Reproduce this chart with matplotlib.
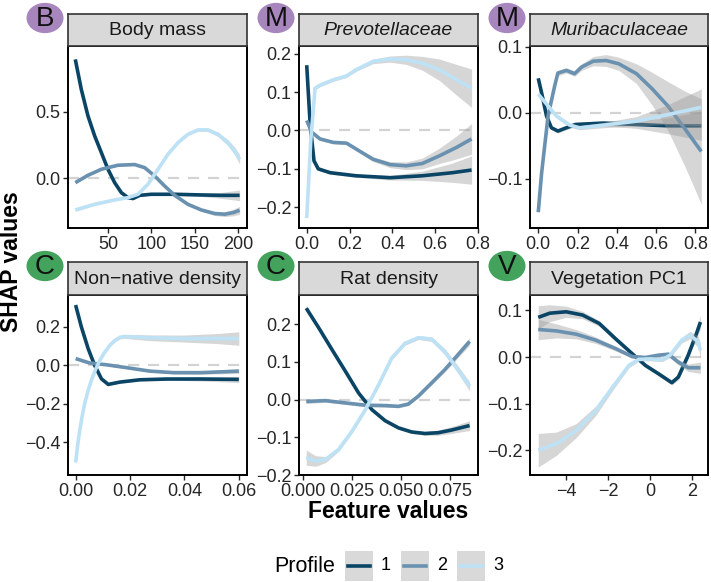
import matplotlib
matplotlib.use("Agg")
import matplotlib.pyplot as plt
from matplotlib.patches import Circle, Rectangle
from matplotlib.lines import Line2D

plt.rcParams['font.family'] = ['Liberation Sans', 'DejaVu Sans']

# -----------------------------
# Data
# -----------------------------
profiles = ["1", "2", "3"]
profile_colors = ["#0b4566", "#6a92b0", "#bde2f5"]

# Body mass
bm_x1 = [12.4, 19.3, 27, 34.7, 42.4, 50, 57.7, 65.4, 73, 78.8, 86.5, 100, 126.8, 157.4, 180, 201.5]
bm_y1 = [0.89, 0.666, 0.467, 0.318, 0.193, 0.069, -0.031, -0.106, -0.143, -0.15, -0.126,
         -0.118, -0.118, -0.123, -0.126, -0.126]
bm_s1 = [0.012, 0.01, 0.008, 0.007, 0.006, 0.006, 0.006, 0.006, 0.006, 0.006, 0.006,
         0.006, 0.007, 0.012, 0.022, 0.04]
bm_x2 = [12.4, 27, 42.4, 61.5, 80.7, 92.2, 103.7, 115.2, 126.8, 142, 157.4, 172.8, 184.3, 194, 201.5]
bm_y2 = [-0.031, 0.024, 0.069, 0.099, 0.104, 0.081, 0.019, -0.056, -0.126, -0.193, -0.235,
         -0.262, -0.267, -0.255, -0.238]
bm_s2 = [0.01, 0.008, 0.006, 0.006, 0.006, 0.006, 0.006, 0.006, 0.007, 0.008, 0.01,
         0.014, 0.018, 0.024, 0.03]
bm_x3 = [12.4, 34.7, 57.7, 73, 84.6, 96, 107.6, 119, 130.6, 142, 153.6, 165, 176.6, 188, 195.8, 201.5]
bm_y3 = [-0.235, -0.193, -0.16, -0.143, -0.118, -0.043, 0.069, 0.181, 0.268, 0.33, 0.363,
         0.363, 0.33, 0.268, 0.206, 0.143]
bm_s3 = [0.01, 0.007, 0.006, 0.006, 0.006, 0.006, 0.006, 0.006, 0.007, 0.008, 0.01,
         0.012, 0.016, 0.022, 0.028, 0.035]

# Prevotellaceae
pv_x1 = [0.0, 0.016, 0.034, 0.054, 0.11, 0.23, 0.39, 0.54, 0.68, 0.77]
pv_y1 = [0.17, 0.017, -0.079, -0.10, -0.11, -0.118, -0.123, -0.118, -0.11, -0.103]
pv_s1 = [0.004, 0.004, 0.004, 0.004, 0.004, 0.004, 0.006, 0.012, 0.025, 0.037]
pv_x2 = [0.0, 0.023, 0.062, 0.124, 0.186, 0.23, 0.31, 0.39, 0.465, 0.54, 0.62, 0.70, 0.77]
pv_y2 = [0.026, -0.004, -0.022, -0.031, -0.033, -0.048, -0.075, -0.089, -0.092, -0.086, -0.066, -0.044, -0.022]
pv_s2 = [0.004, 0.004, 0.004, 0.004, 0.004, 0.004, 0.006, 0.008, 0.01, 0.014, 0.02, 0.03, 0.04]
pv_x3 = [0.0, 0.019, 0.039, 0.062, 0.124, 0.186, 0.23, 0.31, 0.39, 0.465, 0.54, 0.62, 0.70, 0.77]
pv_y3 = [-0.228, -0.026, 0.11, 0.118, 0.132, 0.142, 0.158, 0.18, 0.186, 0.184, 0.175, 0.158, 0.132, 0.11]
pv_s3 = [0.004, 0.004, 0.004, 0.004, 0.004, 0.004, 0.004, 0.006, 0.008, 0.012, 0.018, 0.028, 0.04, 0.05]

# Muribaculaceae
mb_x1 = [0.0, 0.02, 0.042, 0.067, 0.1, 0.143, 0.19, 0.33, 0.5, 0.66, 0.83]
mb_y1 = [0.052, 0.026, -0.005, -0.023, -0.028, -0.023, -0.018, -0.016, -0.018, -0.02, -0.02]
mb_s1 = [0.003, 0.003, 0.003, 0.003, 0.003, 0.003, 0.003, 0.004, 0.006, 0.012, 0.022]
mb_x2 = [0.0, 0.017, 0.05, 0.084, 0.1, 0.143, 0.185, 0.22, 0.28, 0.345, 0.41, 0.5, 0.58, 0.66, 0.75, 0.83]
mb_y2 = [-0.151, -0.092, -0.005, 0.041, 0.06, 0.064, 0.059, 0.069, 0.078, 0.079, 0.074, 0.059, 0.036, 0.01, -0.026, -0.059]
mb_s2 = [0.004, 0.004, 0.004, 0.004, 0.004, 0.004, 0.004, 0.005, 0.007, 0.009, 0.01, 0.015, 0.025, 0.037, 0.058, 0.08]
mb_x3 = [0.0, 0.042, 0.092, 0.16, 0.21, 0.33, 0.5, 0.66, 0.83]
mb_y3 = [0.028, 0.013, -0.005, -0.019, -0.023, -0.019, -0.013, -0.003, 0.008]
mb_s3 = [0.003, 0.003, 0.003, 0.003, 0.003, 0.004, 0.007, 0.015, 0.028]

# Non-native density
nn_x1 = [0.0, 0.0021, 0.0046, 0.007, 0.0095, 0.012, 0.0162, 0.0236, 0.0335, 0.046, 0.06]
nn_y1 = [0.313, 0.2, 0.087, 0.0, -0.07, -0.099, -0.087, -0.075, -0.071, -0.071, -0.073]
nn_s1 = [0.008, 0.006, 0.005, 0.005, 0.005, 0.005, 0.005, 0.005, 0.006, 0.01, 0.016]
nn_x2 = [0.0, 0.0052, 0.0113, 0.0187, 0.0273, 0.036, 0.046, 0.06]
nn_y2 = [0.035, 0.012, 0.003, -0.012, -0.03, -0.038, -0.038, -0.03]
nn_s2 = [0.006, 0.005, 0.005, 0.005, 0.005, 0.006, 0.008, 0.012]
nn_x3 = [0.0, 0.0008, 0.0015, 0.0024, 0.0033, 0.0045, 0.0058, 0.0073, 0.0089, 0.0107,
         0.0126, 0.0145, 0.0162, 0.018, 0.021, 0.0273, 0.0396, 0.052, 0.06]
nn_y3 = [-0.504, -0.41, -0.339, -0.265, -0.2, -0.135, -0.078, -0.022, 0.026, 0.068,
         0.104, 0.13, 0.145, 0.15, 0.148, 0.143, 0.139, 0.139, 0.139]
nn_s3 = [0.012, 0.01, 0.008, 0.007, 0.006, 0.006, 0.006, 0.006, 0.006, 0.006,
         0.006, 0.007, 0.008, 0.01, 0.012, 0.015, 0.018, 0.026, 0.035]

# Rat density
rd_x1 = [0.0017, 0.0082, 0.0149, 0.0217, 0.0285, 0.0353, 0.042, 0.0488, 0.0556, 0.0624,
         0.0691, 0.0759, 0.0852]
rd_y1 = [0.242, 0.189, 0.132, 0.075, 0.017, -0.027, -0.056, -0.075, -0.086, -0.09,
         -0.088, -0.081, -0.069]
rd_s1 = [0.008, 0.005, 0.004, 0.004, 0.004, 0.004, 0.004, 0.004, 0.004, 0.005, 0.007, 0.009, 0.013]
rd_x2 = [0.0017, 0.0116, 0.0217, 0.0319, 0.042, 0.0488, 0.0539, 0.059, 0.0658, 0.0725, 0.0793, 0.0852]
rd_y2 = [-0.005, -0.003, -0.009, -0.015, -0.016, -0.018, -0.012, 0.009, 0.044, 0.079, 0.119, 0.154]
rd_s2 = [0.006, 0.004, 0.004, 0.004, 0.004, 0.004, 0.004, 0.004, 0.005, 0.006, 0.008, 0.01]
rd_x3 = [0.0017, 0.0065, 0.0116, 0.0183, 0.0251, 0.0319, 0.0387, 0.0454, 0.0522, 0.059,
         0.0658, 0.0725, 0.0793, 0.0852]
rd_y3 = [-0.154, -0.163, -0.159, -0.132, -0.084, -0.027, 0.039, 0.11, 0.149, 0.164,
         0.16, 0.127, 0.079, 0.035]
rd_s3 = [0.02, 0.014, 0.008, 0.005, 0.005, 0.005, 0.005, 0.005, 0.005, 0.005, 0.006, 0.008, 0.01, 0.012]

# Vegetation PC1
vg_x1 = [-5.33, -4.78, -4.0, -3.22, -2.43, -1.65, -0.86, -0.235, 0.39, 1.02, 1.33, 1.8, 2.19, 2.38]
vg_y1 = [0.085, 0.094, 0.097, 0.09, 0.072, 0.039, 0.007, -0.018, -0.036, -0.055, -0.043, 0.004, 0.05, 0.075]
vg_s1 = [0.025, 0.018, 0.012, 0.008, 0.006, 0.005, 0.004, 0.004, 0.004, 0.005, 0.006, 0.008, 0.01, 0.015]
vg_x2 = [-5.33, -4.47, -3.53, -2.59, -1.65, -0.86, -0.235, 0.39, 0.86, 1.33, 1.8, 2.38]
vg_y2 = [0.059, 0.056, 0.049, 0.036, 0.018, 0.001, -0.001, 0.004, 0.006, -0.011, -0.023, -0.023]
vg_s2 = [0.022, 0.015, 0.01, 0.007, 0.005, 0.004, 0.004, 0.004, 0.005, 0.006, 0.008, 0.012]
vg_x3 = [-5.33, -4.47, -3.53, -2.59, -1.8, -1.02, -0.55, 0.0, 0.55, 0.94, 1.49, 1.88, 2.27, 2.38]
vg_y3 = [-0.2, -0.186, -0.158, -0.115, -0.065, -0.018, -0.005, -0.004, -0.006, 0.004, 0.036, 0.047, 0.033, 0.014]
vg_s3 = [0.036, 0.025, 0.015, 0.01, 0.007, 0.005, 0.004, 0.004, 0.004, 0.005, 0.006, 0.008, 0.012, 0.016]

titles = ["Body mass", "Prevotellaceae", "Muribaculaceae",
          "Non\u2212native density", "Rat density", "Vegetation PC1"]
italic_title = [False, True, True, False, False, False]
badges = ["B", "M", "M", "C", "C", "V"]
badge_colors = ["#a785bd", "#a785bd", "#a785bd", "#43a35c", "#43a35c", "#43a35c"]

x_ticks = [[50, 100, 150, 200], [0.0, 0.2, 0.4, 0.6, 0.8], [0.0, 0.2, 0.4, 0.6, 0.8],
           [0.00, 0.02, 0.04, 0.06], [0.000, 0.025, 0.050, 0.075], [-4, -2, 0, 2]]
x_fmt = ["{:.0f}", "{:.1f}", "{:.1f}", "{:.2f}", "{:.3f}", "{:.0f}"]
y_ticks = [[0.0, 0.5], [-0.2, -0.1, 0.0, 0.1, 0.2], [-0.1, 0.0, 0.1],
           [-0.4, -0.2, 0.0, 0.2], [-0.2, -0.1, 0.0, 0.1, 0.2], [-0.2, -0.1, 0.0, 0.1]]
x_lims = [(4, 210), (-0.036, 0.80), (-0.042, 0.864),
          (-0.0028, 0.063), (-0.002, 0.0895), (-5.72, 2.74)]
y_lims = [(-0.37, 0.99), (-0.254, 0.22), (-0.175, 0.101),
          (-0.569, 0.365), (-0.198, 0.277), (-0.253, 0.133)]

panels = [
    [(bm_x1, bm_y1, bm_s1), (bm_x2, bm_y2, bm_s2), (bm_x3, bm_y3, bm_s3)],
    [(pv_x1, pv_y1, pv_s1), (pv_x2, pv_y2, pv_s2), (pv_x3, pv_y3, pv_s3)],
    [(mb_x1, mb_y1, mb_s1), (mb_x2, mb_y2, mb_s2), (mb_x3, mb_y3, mb_s3)],
    [(nn_x1, nn_y1, nn_s1), (nn_x2, nn_y2, nn_s2), (nn_x3, nn_y3, nn_s3)],
    [(rd_x1, rd_y1, rd_s1), (rd_x2, rd_y2, rd_s2), (rd_x3, rd_y3, rd_s3)],
    [(vg_x1, vg_y1, vg_s1), (vg_x2, vg_y2, vg_s2), (vg_x3, vg_y3, vg_s3)],
]

# -----------------------------
# Layout (pixels of a 711x582 canvas)
# -----------------------------
W, H = 711, 582
col_px = [(68, 247), (299, 478), (530, 708)]
row_px = [(46, 228), (295, 475)]
strip_px = [(14, 46), (262, 295)]


def fbox(x0, y0, x1, y1):
    return [x0 / W, 1 - y1 / H, (x1 - x0) / W, (y1 - y0) / H]


fig = plt.figure(figsize=(W / 100, H / 100), dpi=100)
tick_color = "#262626"

for i in range(6):
    r, c = divmod(i, 3)
    x0, x1 = col_px[c]
    y0, y1 = row_px[r]
    ax = fig.add_axes(fbox(x0, y0, x1, y1))
    ax.axhline(0, color="#d3d3d3", lw=1.6, ls=(0, (5, 4)), zorder=1)
    for k, (xs, ys, ss) in enumerate(panels[i]):
        lo = [y - s for y, s in zip(ys, ss)]
        hi = [y + s for y, s in zip(ys, ss)]
        ax.fill_between(xs, lo, hi, color="#999999", alpha=0.4, lw=0, zorder=2 + 2 * k)
        ax.plot(xs, ys, color=profile_colors[k], lw=2.6, solid_capstyle="butt",
                solid_joinstyle="round", zorder=3 + 2 * k)
    ax.set_xlim(*x_lims[i])
    ax.set_ylim(*y_lims[i])
    ax.set_xticks(x_ticks[i])
    ax.set_xticklabels([x_fmt[i].format(v).replace("-", "\u2212") for v in x_ticks[i]])
    ax.set_yticks(y_ticks[i])
    ax.set_yticklabels([("{:.1f}".format(v)).replace("-", "\u2212") for v in y_ticks[i]])
    ax.tick_params(labelsize=13, colors=tick_color, length=3.5, width=1.0, pad=2)
    for sp in ax.spines.values():
        sp.set_linewidth(1.4)
        sp.set_color("black")

    # strip
    sy0, sy1 = strip_px[r]
    sax = fig.add_axes(fbox(x0, sy0, x1, sy1))
    sax.set_facecolor("#d9d9d9")
    sax.set_xticks([])
    sax.set_yticks([])
    for sp in sax.spines.values():
        sp.set_linewidth(1.2)
        sp.set_color("#333333")
    sax.text(0.5, 0.47, titles[i], ha="center", va="center", fontsize=14,
             style="italic" if italic_title[i] else "normal", color="#1a1a1a",
             transform=sax.transAxes)

    # badge
    cx = x0 - 23
    cy = sy0 + 4
    fig.patches.append(Circle((cx / W, 1 - cy / H), 18.5 / W, transform=fig.transFigure,
                              facecolor=badge_colors[i], edgecolor="none"))
    fig.text(cx / W, 1 - (cy + 1) / H, badges[i], ha="center", va="center",
             fontsize=20, color="#111111")

# axis titles
fig.text(12 / W, 1 - 262 / H, "SHAP values", rotation=90, ha="center", va="center",
         fontsize=16.5, fontweight="bold")
fig.text(388 / W, 1 - 512 / H, "Feature values", ha="center", va="center",
         fontsize=16.5, fontweight="bold")

# legend
fig.text(305 / W, 1 - 566 / H, "Profile", ha="center", va="center", fontsize=15.5)
for k, lab in enumerate(profiles):
    bx = 345 + 56 * k
    fig.patches.append(Rectangle((bx / W, 1 - 581 / H), 28 / W, 30 / H,
                                 transform=fig.transFigure, facecolor="#d9d9d9",
                                 edgecolor="none"))
    fig.lines.append(Line2D([(bx + 3) / W, (bx + 25) / W], [1 - 566 / H, 1 - 566 / H],
                            transform=fig.transFigure, color=profile_colors[k], lw=2.6))
    fig.text((bx + 41) / W, 1 - 566 / H, lab, ha="center", va="center", fontsize=13)

fig.savefig("out.png", dpi=100)
